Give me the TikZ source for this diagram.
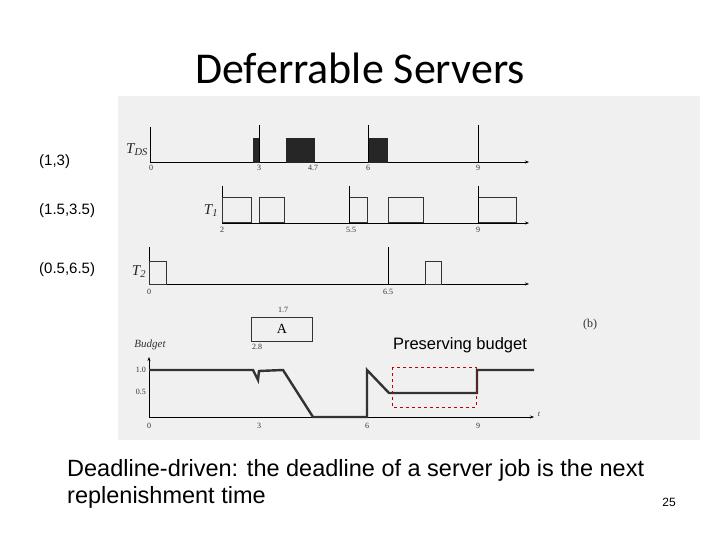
\documentclass[tikz,border=0pt]{standalone}
\usepackage{fontspec}
\usetikzlibrary{arrows.meta}
\setmainfont{Liberation Sans}
\newfontfamily\titlefont{Carlito}
\newfontfamily\scanfont{Liberation Serif}
\begin{document}
\begin{tikzpicture}[x=1pt,y=-1pt,
  ax/.style={line width=0.6pt,-{Stealth[length=4pt,width=3pt]}},
  tk/.style={line width=0.6pt},
  job/.style={draw=black!80,line width=1pt},
  fjob/.style={fill=black!85,draw=black!85},
  lbl/.style={font=\scanfont\fontsize{8}{9}\selectfont,text=black!80,inner sep=1pt},
  tname/.style={font=\scanfont\itshape\fontsize{15}{16}\selectfont,text=black!85,inner sep=1pt},
  side/.style={font=\fontsize{15}{16}\selectfont,anchor=west,inner sep=0pt}]
\useasboundingbox (0,0) rectangle (720,540);
\fill[white] (0,0) rectangle (720,540);
\fill[black!6] (118,96) rectangle (700,440);
\node[font=\titlefont\fontsize{44}{48}\selectfont] (title) at (360,68) {Deferrable Servers};
% TDS row
\node[tname] (tds) at (137,150) {T\textsubscript{\itshape DS}};
\draw[tk] (150,127) -- (150,162);
\draw[ax] (150,162) -- (529,162);
\fill[fjob] (253,138) rectangle (259,162);
\fill[fjob] (286,138) rectangle (314,162);
\fill[fjob] (368,138) rectangle (387,162);
\draw[tk] (259,125) -- (259,162);
\draw[tk] (368,125) -- (368,162);
\draw[tk] (478,125) -- (478,162);
\node[lbl] (d0) at (151,168) {0};
\node[lbl] (d3) at (259,168) {3};
\node[lbl] (d47) at (313,168) {4.7};
\node[lbl] (d6) at (368,168) {6};
\node[lbl] (d9) at (478,168) {9};
% T1 row
\node[tname] (t1) at (211,211) {T\textsubscript{1}};
\draw[tk] (222,186) -- (222,223);
\draw[ax] (222,223) -- (529,223);
\draw[job] (222,198) rectangle (251,223);
\draw[job] (259,198) rectangle (284,223);
\draw[job] (349,198) rectangle (367,223);
\draw[job] (388,198) rectangle (423,223);
\draw[job] (478,198) rectangle (516,223);
\draw[tk] (349,186) -- (349,223);
\draw[tk] (478,186) -- (478,223);
\node[lbl] (e2) at (222,230) {2};
\node[lbl] (e55) at (351,230) {5.5};
\node[lbl] (e9) at (478,230) {9};
% T2 row
\node[tname] (t2) at (139,272) {T\textsubscript{2}};
\draw[tk] (149,247) -- (149,284);
\draw[ax] (149,284) -- (529,284);
\draw[job] (149,261) rectangle (166,284);
\draw[job] (425,261) rectangle (441,284);
\draw[tk] (388,247) -- (388,284);
\node[lbl] (f0) at (149,292) {0};
\node[lbl] (f65) at (388,292) {6.5};
% A box
\draw[job] (251,317) rectangle (312,341);
\node[font=\scanfont\fontsize{14}{16}\selectfont] (A) at (282,329) {A};
\node[lbl] (a17) at (283,310) {1.7};
\node[lbl] (a28) at (257,347) {2.8};
\node[font=\scanfont\itshape\fontsize{11}{12}\selectfont,text=black!80] (bud) at (150,345) {Budget};
\node[font=\scanfont\fontsize{12}{14}\selectfont,text=black!80] (b) at (590,325) {(b)};
% Budget plot
\draw[ax] (149,417) -- (149,357);
\draw[ax] (149,417) -- (534,417);
\node[lbl,anchor=east] (y1) at (147,370) {1.0};
\node[lbl,anchor=east] (y05) at (147,392) {0.5};
\node[lbl] (g0) at (149,426) {0};
\node[lbl] (g3) at (259,426) {3};
\node[lbl] (g6) at (367,426) {6};
\node[lbl] (g9) at (478,426) {9};
\node[lbl,font=\scanfont\itshape\fontsize{8}{9}\selectfont] (gt) at (539,414) {t};
\draw[black!80,line width=2.4pt,line join=miter]
  (149,370) -- (253,370) -- (258,380) -- (259,371) -- (283,370) -- (313,417)
  -- (367,417) -- (367,370) -- (389,393) -- (477,393) -- (477,370) -- (534,370);
\draw[red!75!black,dashed,line width=0.8pt] (392,367) rectangle (476,407);
\node[font=\fontsize{16.5}{18}\selectfont] (pb) at (460,345) {Preserving budget};
% side labels
\node[side] (s1) at (39,162) {(1,3)};
\node[side] (s2) at (39,211) {(1.5,3.5)};
\node[side] (s3) at (39,270) {(0.5,6.5)};
% bottom text
\node[anchor=west,font=\fontsize{23.5}{27}\selectfont,align=left,inner sep=0pt] (note) at (67,484)
  {Deadline-driven: the deadline of a server job is the next\\replenishment time};
\node[font=\fontsize{12}{14}\selectfont] (pg) at (669,502) {25};
\end{tikzpicture}
\end{document}
